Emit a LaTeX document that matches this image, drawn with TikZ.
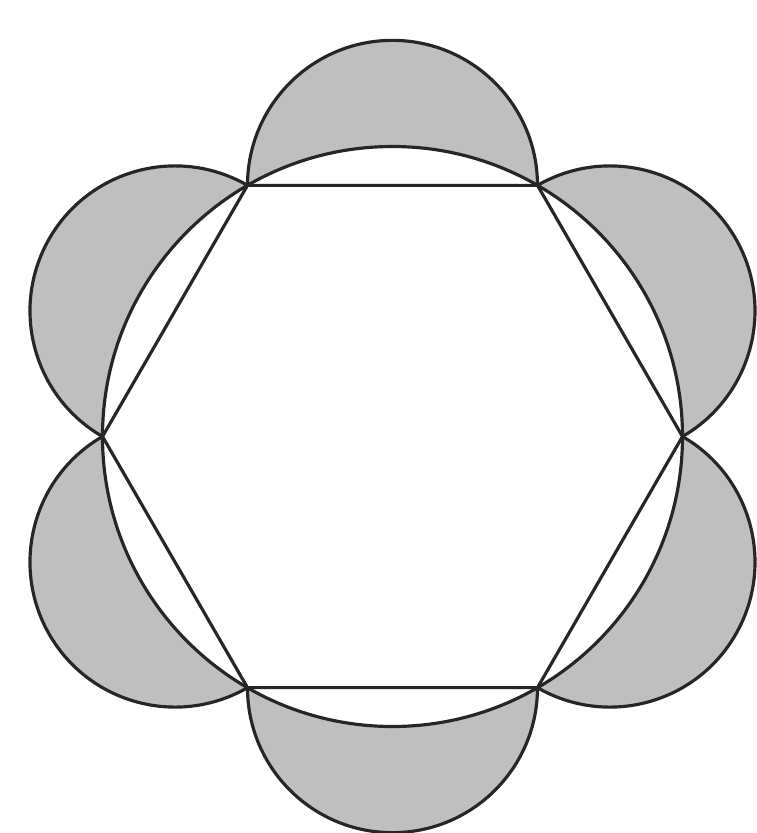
\documentclass[tikz,border=0pt]{standalone}
\usepackage{tikz}
\usetikzlibrary{calc}

\begin{document}
\begin{tikzpicture}[
    edge/.style={draw=black!85, line width=0.9pt},
    lune/.style={fill=black!25}
]
\useasboundingbox (-3.925,-3.965) rectangle (3.645,4.365);
% corners of the hexagon on the circle
\foreach \i in {0,...,5} {
  \coordinate (v\i) at ({60*\i}:2.9);
}
% half discs on the sides
\foreach \i in {0,...,5} {
  \fill[lune] (v\i) arc[start angle={60*\i-60}, end angle={60*\i+120}, radius=1.45] -- cycle;
}
\draw[edge, fill=white] (0,0) circle[radius=2.9];
\foreach \i in {0,...,5} {
  \draw[edge] (v\i) arc[start angle={60*\i-60}, end angle={60*\i+120}, radius=1.45];
}
\draw[edge] (v0) -- (v1) -- (v2) -- (v3) -- (v4) -- (v5) -- cycle;
\end{tikzpicture}
\end{document}
